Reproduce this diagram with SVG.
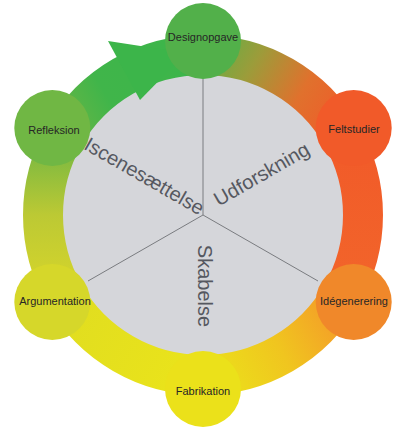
<svg xmlns="http://www.w3.org/2000/svg" width="394" height="430" viewBox="0 0 394 430">
<style>
.seg{fill:none;stroke-width:40;stroke-linecap:butt}
.node text{font-family:"Liberation Sans",Arial,sans-serif;font-size:11px;fill:#262626;text-anchor:middle}
.phase{font-family:"Liberation Sans",Arial,sans-serif;font-size:20px;fill:#555860;text-anchor:middle}
.div{stroke:#7a7c80;stroke-width:1}
</style>
<defs>
<linearGradient id="gA" gradientUnits="userSpaceOnUse" x1="203" y1="55" x2="341.56" y2="135">
<stop offset="0" stop-color="#5fb046"/><stop offset="0.3" stop-color="#9c9c3a"/><stop offset="0.65" stop-color="#e0712d"/><stop offset="1" stop-color="#f15a29"/>
</linearGradient>
<linearGradient id="gB" gradientUnits="userSpaceOnUse" x1="341.56" y1="135" x2="341.56" y2="295">
<stop offset="0" stop-color="#f15a29"/><stop offset="1" stop-color="#f2652a"/>
</linearGradient>
<linearGradient id="gC" gradientUnits="userSpaceOnUse" x1="341.56" y1="295" x2="203" y2="375">
<stop offset="0" stop-color="#f5952a"/><stop offset="0.5" stop-color="#f0c51f"/><stop offset="1" stop-color="#ebe31a"/>
</linearGradient>
<linearGradient id="gD" gradientUnits="userSpaceOnUse" x1="203" y1="375" x2="64.44" y2="295">
<stop offset="0" stop-color="#ebe41a"/><stop offset="1" stop-color="#e0dd20"/>
</linearGradient>
<linearGradient id="gE" gradientUnits="userSpaceOnUse" x1="64.44" y1="295" x2="64.44" y2="135">
<stop offset="0" stop-color="#d8d62a"/><stop offset="0.5" stop-color="#bcc934"/><stop offset="1" stop-color="#6cb544"/>
</linearGradient>
<linearGradient id="gF" gradientUnits="userSpaceOnUse" x1="64.44" y1="135" x2="203" y2="55">
<stop offset="0" stop-color="#6cb544"/><stop offset="0.35" stop-color="#40b54a"/><stop offset="1" stop-color="#3cb54a"/>
</linearGradient>
</defs>
<rect width="394" height="430" fill="#ffffff"/>
<g id="wheel">
<circle cx="203" cy="215" r="141" fill="#d5d6da"/>
<line class="div" x1="203" y1="215" x2="203" y2="78"/>
<line class="div" x1="203" y1="215" x2="88" y2="281"/>
<line class="div" x1="203" y1="215" x2="318" y2="281"/>
</g>
<g id="connectors">
<path class="seg" stroke="url(#gA)" d="M203,55 A160,160 0 0 1 341.56,135"/>
<path class="seg" stroke="url(#gB)" d="M341.56,135 A160,160 0 0 1 341.56,295"/>
<path class="seg" stroke="url(#gC)" d="M341.56,295 A160,160 0 0 1 203,375"/>
<path class="seg" stroke="url(#gD)" d="M203,375 A160,160 0 0 1 64.44,295"/>
<path class="seg" stroke="url(#gE)" d="M64.44,295 A160,160 0 0 1 64.44,135"/>
<path class="seg" stroke="url(#gF)" d="M64.44,135 A160,160 0 0 1 203,55"/>
<polygon points="108,41 186,53 140,100" fill="#3cb54a"/>
</g>
<g id="phases">
<text class="phase" transform="translate(141,182) rotate(30)">Iscenesættelse</text>
<text class="phase" transform="translate(265,180) rotate(-30)">Udforskning</text>
<text class="phase" transform="translate(198,286) rotate(90)">Skabelse</text>
</g>
<g id="designopgave" class="node"><circle cx="203" cy="41" r="38" fill="#52b04a"/><text x="203" y="41">Designopgave</text></g>
<g id="feltstudier" class="node"><circle cx="353.7" cy="128" r="38" fill="#f15a29"/><text x="354" y="133">Feltstudier</text></g>
<g id="idegenerering" class="node"><circle cx="353.7" cy="302" r="38" fill="#f0882a"/><text x="354" y="305">Idégenerering</text></g>
<g id="fabrikation" class="node"><circle cx="203" cy="389" r="38" fill="#ebe11a"/><text x="203" y="395">Fabrikation</text></g>
<g id="argumentation" class="node"><circle cx="52.3" cy="302" r="38" fill="#d6d72a"/><text x="55" y="305">Argumentation</text></g>
<g id="refleksion" class="node"><circle cx="52.3" cy="128" r="38" fill="#70b744"/><text x="54" y="134">Refleksion</text></g>
</svg>
